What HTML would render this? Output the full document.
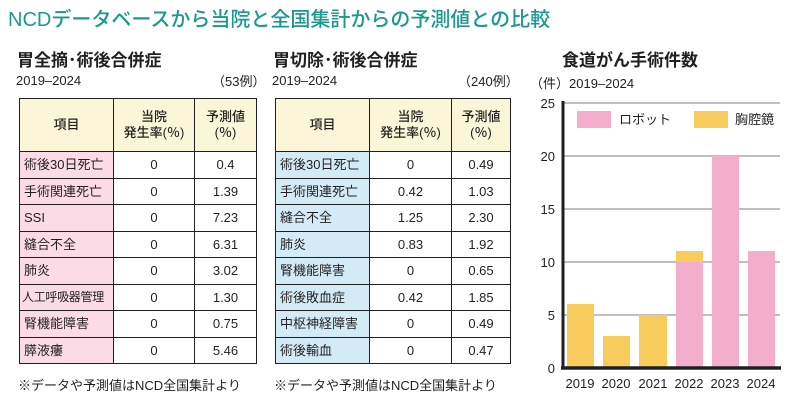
<!DOCTYPE html><html><head><meta charset="utf-8"><style>
body{margin:0;width:808px;height:417px;background:#fff;font-family:"Liberation Sans","Noto Sans CJK JP",sans-serif;color:#231f20;position:relative;overflow:hidden}
.a{position:absolute;white-space:nowrap}
table{position:absolute;border-collapse:collapse;font-size:13px}
td{border:1.5px solid #231f20;text-align:center;height:25.5px;padding:0;line-height:15px;white-space:nowrap}
th{border:1.5px solid #231f20;background:#fcf6d8;font-size:13px;height:52px;padding:0;line-height:16px;font-weight:500}
td.l{text-align:left;padding-left:4px}
.p td.l{background:#fadbe6}.b td.l{background:#d3ebf7}
</style></head><body>
<div class="a" style="left:8px;top:3px;font-size:20px;color:#1a9a8c;font-weight:500">NCDデータベースから当院と全国集計からの予測値との比較</div>
<div class="a" style="left:17px;top:46px;font-size:17px;font-weight:bold">胃全摘･術後合併症</div>
<div class="a" style="left:16px;top:73px;font-size:13px">2019–2024</div>
<div class="a" style="left:212px;top:71px;font-size:13px">（53例）</div>
<div class="a" style="left:273px;top:46px;font-size:17px;font-weight:bold">胃切除･術後合併症</div>
<div class="a" style="left:272px;top:73px;font-size:13px">2019–2024</div>
<div class="a" style="left:458px;top:71px;font-size:13px">（240例）</div>
<table class="p" style="left:19px;top:98px;width:238px">
<tr><th style="width:93px">項目</th><th style="width:80px">当院<br>発生率(％)</th><th>予測値<br>(％)</th></tr>
<tr><td class="l">術後30日死亡</td><td>0</td><td>0.4</td></tr>
<tr><td class="l">手術関連死亡</td><td>0</td><td>1.39</td></tr>
<tr><td class="l">SSI</td><td>0</td><td>7.23</td></tr>
<tr><td class="l">縫合不全</td><td>0</td><td>6.31</td></tr>
<tr><td class="l">肺炎</td><td>0</td><td>3.02</td></tr>
<tr><td class="l" style="font-size:12px;letter-spacing:-0.3px;padding-left:2px">人工呼吸器管理</td><td>0</td><td>1.30</td></tr>
<tr><td class="l">腎機能障害</td><td>0</td><td>0.75</td></tr>
<tr><td class="l">膵液瘻</td><td>0</td><td>5.46</td></tr>
</table>
<table class="b" style="left:275px;top:98px;width:236px">
<tr><th style="width:93px">項目</th><th style="width:81px">当院<br>発生率(％)</th><th>予測値<br>(％)</th></tr>
<tr><td class="l">術後30日死亡</td><td>0</td><td>0.49</td></tr>
<tr><td class="l">手術関連死亡</td><td>0.42</td><td>1.03</td></tr>
<tr><td class="l">縫合不全</td><td>1.25</td><td>2.30</td></tr>
<tr><td class="l">肺炎</td><td>0.83</td><td>1.92</td></tr>
<tr><td class="l">腎機能障害</td><td>0</td><td>0.65</td></tr>
<tr><td class="l">術後敗血症</td><td>0.42</td><td>1.85</td></tr>
<tr><td class="l">中枢神経障害</td><td>0</td><td>0.49</td></tr>
<tr><td class="l">術後輸血</td><td>0</td><td>0.47</td></tr>
</table>
<div class="a" style="left:18px;top:375px;font-size:13px">※データや予測値はNCD全国集計より</div>
<div class="a" style="left:274px;top:375px;font-size:13px">※データや予測値はNCD全国集計より</div>
<div class="a" style="left:562px;top:46px;font-size:17px;font-weight:bold">食道がん手術件数</div>
<div class="a" style="left:530px;top:73px;font-size:13px">（件）2019–2024</div>
<svg class="a" style="left:0;top:0" width="808" height="417">
<g stroke="#999" stroke-width="1.2">
<line x1="562" x2="780" y1="103" y2="103"/><line x1="562" x2="780" y1="156" y2="156"/><line x1="562" x2="780" y1="209" y2="209"/><line x1="562" x2="780" y1="262" y2="262"/><line x1="562" x2="780" y1="315" y2="315"/></g>
<g fill="#f7cb5c"><rect x="567" y="304" width="27" height="64"/><rect x="603" y="336" width="27" height="32"/><rect x="639" y="315" width="28" height="53"/><rect x="676" y="251" width="27" height="11"/></g>
<g fill="#f2aecb"><rect x="676" y="262" width="27" height="106"/><rect x="712" y="156" width="27" height="212"/><rect x="748" y="251" width="27" height="117"/></g>
<rect x="577" y="111" width="34" height="17" fill="#f2aecb"/><rect x="694" y="111" width="34" height="17" fill="#f7cb5c"/>
<line x1="563" y1="101" x2="563" y2="369" stroke="#231f20" stroke-width="3"/>
<line x1="561" y1="368" x2="781" y2="368" stroke="#231f20" stroke-width="3.5"/>
<g font-size="13" fill="#231f20" text-anchor="end"><text x="555" y="108">25</text><text x="555" y="161">20</text><text x="555" y="214">15</text><text x="555" y="267">10</text><text x="555" y="320">5</text><text x="555" y="373">0</text></g>
<g font-size="13" fill="#231f20" text-anchor="middle"><text x="580" y="388">2019</text><text x="616" y="388">2020</text><text x="653" y="388">2021</text><text x="689" y="388">2022</text><text x="725" y="388">2023</text><text x="761" y="388">2024</text></g>
<g font-size="13" fill="#231f20"><text x="619" y="124">ロボット</text><text x="735" y="124">胸腔鏡</text></g>
</svg>
</body></html>
